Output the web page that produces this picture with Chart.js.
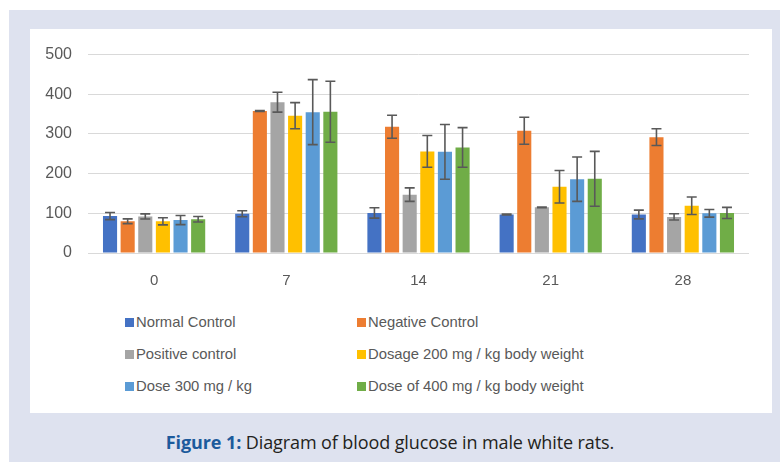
<!DOCTYPE html>
<html>
<head>
<meta charset="utf-8">
<script src="https://cdn.jsdelivr.net/npm/chart.js@4"></script>
<style>
    body { margin: 0; width: 780px; height: 462px; position: relative; overflow: hidden; background: #fff; font-family: "Liberation Sans", Arial, sans-serif; }
    #panel { position: absolute; left: 9px; top: 10px; width: 771px; height: 452px; background: #dee2ef; }
    #box { position: absolute; left: 21px; top: 19px; width: 742px; height: 384px; background: #fff; }
    #chartWrap { position: absolute; left: 0; top: 0; width: 742px; height: 275px; }
    #legend { position: absolute; left: 95px; top: 277px; display: grid; grid-template-columns: 232px 232px; grid-auto-rows: 32px; }
    .item { display: flex; align-items: center; font-size: 14.8px; color: #595959; }
    .swatch { width: 9px; height: 9px; margin-right: 2px; }
    #caption { position: absolute; left: -9px; top: 420px; width: 780px; text-align: center; font-family: "Open Sans", sans-serif; font-size: 18px; letter-spacing: -0.1px; color: #231f20; }
    #caption b { color: #1c5a9c; }
</style>
</head>
<body>
<div id="panel">
    <div id="box">
        <div id="chartWrap"><canvas id="glucoseChart" width="742" height="275"></canvas></div>
        <div id="legend"></div>
    </div>
    <div id="caption"><b>Figure 1:</b> Diagram of blood glucose in male white rats.</div>
</div>
<script>
// 数据
const days = ['0', '7', '14', '21', '28'];
const seriesNames = ['Normal Control', 'Negative Control', 'Positive control', 'Dosage 200 mg / kg body weight', 'Dose 300 mg / kg', 'Dose of 400 mg / kg body weight'];
const seriesColors = ['#4472c4', '#ed7d31', '#a5a5a5', '#ffc000', '#5b9bd5', '#70ad47'];

const normalControl = [93, 99, 101, 97, 97];
const negativeControl = [80, 358, 318, 308, 292];
const positiveControl = [92, 380, 147, 115, 91];
const dose200 = [80, 346, 256, 167, 119];
const dose300 = [83, 355, 255, 186, 100];
const dose400 = [85, 356, 266, 187, 101];

// 误差 (±)
const normalErr = [9, 7.5, 13, 1, 11];
const negativeErr = [6, 1, 29, 34, 21];
const positiveErr = [6.5, 25, 17, 1, 8];
const dose200Err = [9, 33, 40, 41, 22];
const dose300Err = [11.5, 82, 69, 56, 9.5];
const dose400Err = [7, 77, 50, 69, 14];

const yTicks = [0, 100, 200, 300, 400, 500];

const allValues = [normalControl, negativeControl, positiveControl, dose200, dose300, dose400];
const allErrors = [normalErr, negativeErr, positiveErr, dose200Err, dose300Err, dose400Err];

// 误差线插件
const errorBarPlugin = {
    id: 'errorBars',
    afterDatasetsDraw(chart) {
        const ctx = chart.ctx;
        const yScale = chart.scales.y;
        ctx.save();
        ctx.strokeStyle = '#595959';
        ctx.lineWidth = 1.6;
        chart.data.datasets.forEach((ds, i) => {
            const meta = chart.getDatasetMeta(i);
            meta.data.forEach((bar, j) => {
                const v = ds.data[j];
                const e = ds.errors[j];
                const yTop = yScale.getPixelForValue(v + e);
                const yBot = yScale.getPixelForValue(v - e);
                ctx.beginPath();
                ctx.moveTo(bar.x, yTop);
                ctx.lineTo(bar.x, yBot);
                ctx.moveTo(bar.x - 5, yTop);
                ctx.lineTo(bar.x + 5, yTop);
                ctx.moveTo(bar.x - 5, yBot);
                ctx.lineTo(bar.x + 5, yBot);
                ctx.stroke();
            });
        });
        ctx.restore();
    }
};

const datasets = seriesNames.map((name, i) => ({
    label: name,
    data: allValues[i],
    errors: allErrors[i],
    backgroundColor: seriesColors[i],
    categoryPercentage: 0.8,
    barPercentage: 0.8
}));

const ctx = document.getElementById('glucoseChart').getContext('2d');
const chart = new Chart(ctx, {
    type: 'bar',
    data: { labels: days, datasets: datasets },
    options: {
        responsive: false,
        animation: false,
        layout: { padding: { top: 23, right: 23, left: 0, bottom: 0 } },
        plugins: {
            legend: { display: false },
            tooltip: { enabled: false }
        },
        scales: {
            x: {
                grid: { display: false },
                border: { display: false },
                ticks: { color: '#595959', font: { size: 15, family: 'Liberation Sans' }, padding: 11 },
                afterFit(s) { s.height = 51; }
            },
            y: {
                min: 0,
                max: 500,
                afterBuildTicks(s) { s.ticks = yTicks.map(v => ({ value: v })); },
                grid: { color: '#d9d9d9', lineWidth: 1, drawTicks: false },
                border: { display: false },
                ticks: { color: '#595959', font: { size: 16, family: 'Liberation Sans' }, padding: 16 },
                afterFit(s) { s.width = 58; }
            }
        }
    },
    plugins: [errorBarPlugin]
});

// 图例
const legendEl = document.getElementById('legend');
seriesNames.forEach((name, i) => {
    const item = document.createElement('div');
    item.className = 'item';
    item.innerHTML = '<span class="swatch" style="background:' + seriesColors[i] + '"></span>' + name;
    legendEl.appendChild(item);
});
</script>
</body>
</html>
